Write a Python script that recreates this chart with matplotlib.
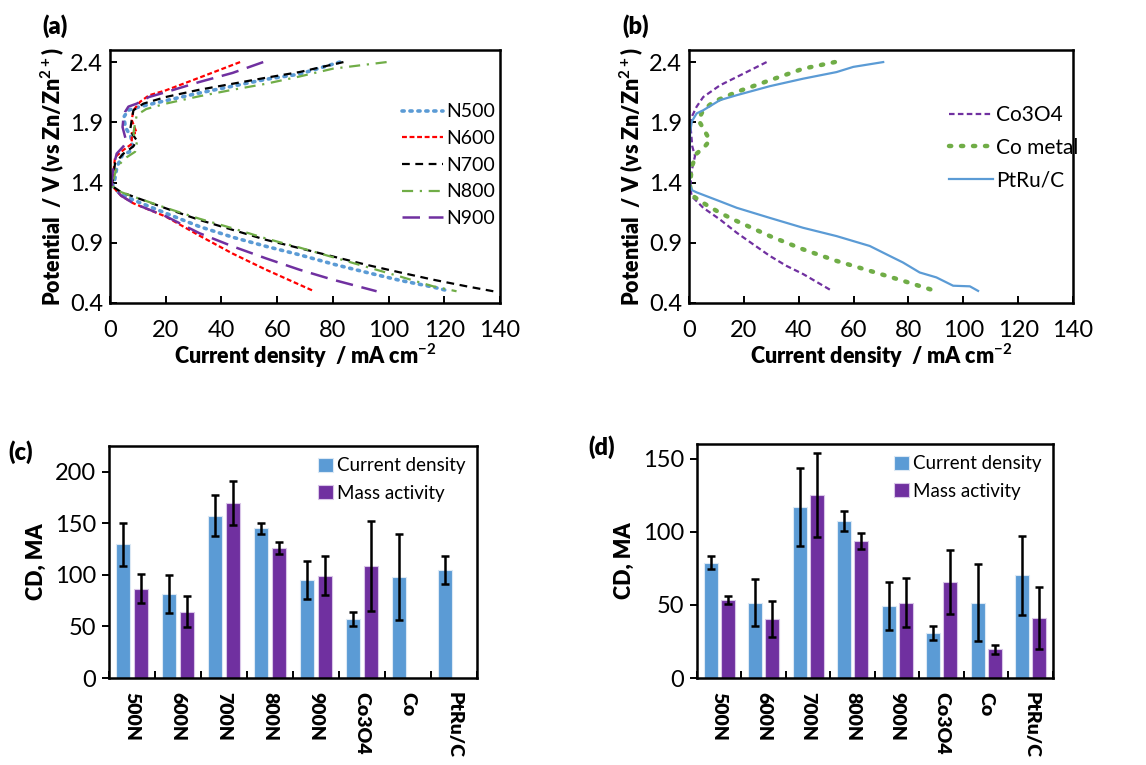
import numpy as np
import matplotlib
matplotlib.use('Agg')
import matplotlib.pyplot as plt
from matplotlib.ticker import MultipleLocator, FixedLocator

plt.rcParams['font.family'] = ['Lato', 'DejaVu Sans']
plt.rcParams['mathtext.fontset'] = 'custom'
plt.rcParams['mathtext.rm'] = 'Lato'
plt.rcParams['mathtext.bf'] = 'Lato:bold'

# Colors
BLUE = '#5B9BD5'
PURPLE = '#7030A0'
RED = '#FF0000'
GREEN = '#70AD47'
BLACK = '#000000'

# (a) polarisation curves, N-doped samples: (current density, potential)
n500_up_x = [1.5, 2.5, 4.5, 7.0, 8.0, 7.5, 5.5, 5.0, 6.5, 10.8, 20, 32, 44, 56, 68, 82.5]
n500_up_y = [1.40, 1.53, 1.63, 1.655, 1.70, 1.78, 1.86, 1.945, 2.0, 2.03, 2.08, 2.143, 2.20, 2.257, 2.30, 2.40]
n500_dn_x = [0.8, 4, 8.4, 20, 32, 44, 56, 68, 80, 92, 104, 116, 122]
n500_dn_y = [1.37, 1.30, 1.255, 1.145, 1.035, 0.946, 0.87, 0.80, 0.723, 0.654, 0.588, 0.532, 0.497]

n600_up_x = [0.6, 1.2, 1.8, 4.8, 7.8, 7.8, 9.6, 7.8, 8.4, 10.8, 14, 20, 32, 46.7]
n600_up_y = [1.38, 1.48, 1.61, 1.67, 1.72, 1.81, 1.81, 1.92, 2.0, 2.07, 2.124, 2.165, 2.27, 2.40]
n600_dn_x = [0.8, 4, 8.4, 20, 32, 44, 56, 73]
n600_dn_y = [1.37, 1.29, 1.227, 1.117, 0.96, 0.81, 0.676, 0.50]

n700_up_x = [0.6, 1.2, 1.8, 4.8, 8.4, 9.6, 7.2, 7.8, 8.4, 12, 20, 32, 44, 56, 68, 83.8]
n700_up_y = [1.37, 1.45, 1.56, 1.64, 1.70, 1.75, 1.83, 1.92, 2.0, 2.055, 2.11, 2.17, 2.22, 2.27, 2.317, 2.40]
n700_dn_x = [0.8, 4, 8.4, 20, 32, 44, 56, 68, 80, 92, 104, 116, 128, 137.6]
n700_dn_y = [1.37, 1.32, 1.283, 1.186, 1.09, 1.007, 0.924, 0.855, 0.786, 0.717, 0.654, 0.593, 0.538, 0.497]

n800_up_x = [1.2, 2.4, 6.0, 9.0, 9.6, 8.4, 9.0, 9.6, 13, 20, 32, 44, 56, 68, 80, 99.3]
n800_up_y = [1.42, 1.53, 1.61, 1.655, 1.72, 1.81, 1.89, 1.96, 2.01, 2.055, 2.116, 2.17, 2.22, 2.28, 2.345, 2.40]
n800_dn_x = [0.8, 4, 8.4, 20, 32, 44, 56, 68, 80, 92, 104, 116, 124.4]
n800_dn_y = [1.37, 1.32, 1.283, 1.19, 1.10, 1.02, 0.935, 0.86, 0.78, 0.70, 0.62, 0.538, 0.497]

n900_up_x = [0.6, 1.2, 2.4, 4.8, 6.0, 5.4, 4.5, 4.8, 5.4, 6.6, 9.6, 14, 20, 32, 44, 55]
n900_up_y = [1.41, 1.53, 1.64, 1.70, 1.74, 1.78, 1.86, 1.93, 1.986, 2.03, 2.055, 2.11, 2.15, 2.234, 2.31, 2.40]
n900_dn_x = [0.8, 4, 8.4, 20, 32, 44, 56, 68, 80, 95.7]
n900_dn_y = [1.37, 1.29, 1.227, 1.12, 0.98, 0.87, 0.77, 0.676, 0.593, 0.497]

# (b) reference catalysts
co3o4_up_x = [0.5, 1.0, 2.2, 1.2, 0.6, 1.0, 2.8, 5.2, 11.3, 17.4, 28.3]
co3o4_up_y = [1.36, 1.50, 1.62, 1.70, 1.86, 1.945, 2.03, 2.11, 2.207, 2.276, 2.40]
co3o4_dn_x = [0.5, 1.0, 5.2, 11.3, 17.4, 23.4, 29.5, 35.6, 41.6, 51.4]
co3o4_dn_y = [1.35, 1.286, 1.19, 1.093, 0.983, 0.887, 0.79, 0.707, 0.64, 0.51]

comet_up_x = [0.4, 0.5, 1.0, 2.8, 5.8, 7.6, 5.2, 3.4, 5.2, 8.9, 17.4, 29.5, 41.6, 53.2]
comet_up_y = [1.36, 1.40, 1.53, 1.64, 1.70, 1.75, 1.85, 1.92, 2.0, 2.07, 2.152, 2.249, 2.345, 2.40]
comet_dn_x = [0.4, 1.6, 5.2, 11.3, 17.4, 29.5, 41.6, 53.8, 65.9, 78, 90.2]
comet_dn_y = [1.36, 1.286, 1.23, 1.148, 1.08, 0.955, 0.845, 0.749, 0.667, 0.584, 0.497]

ptru_x = [70.8, 59.9, 53.8, 41.6, 29.5, 17.4, 11.3, 5.2, 2.8, 1.0, 0.4, 0.2, 0.4, 1.2, 2.8, 11.3,
          17.4, 29.5, 41.6, 53.8, 65.9, 73.2, 78, 84.1, 90.2, 96.3, 102.4, 105.4]
ptru_y = [2.40, 2.36, 2.317, 2.262, 2.20, 2.125, 2.084, 2.0, 1.974, 1.905, 1.81, 1.53, 1.37, 1.335, 1.318, 1.244,
          1.19, 1.106, 1.024, 0.955, 0.873, 0.79, 0.736, 0.653, 0.612, 0.543, 0.538, 0.50]

# (c), (d) bar data
categories = ['500N', '600N', '700N', '800N', '900N', 'Co3O4', 'Co', 'PtRu/C']

c_cd = [129.7, 81.6, 157.4, 145.2, 94.8, 57.7, 98.0, 104.8]
c_cd_err = [20.6, 18.5, 19.8, 5.6, 18.5, 6.8, 42.0, 13.2]
c_ma = [86.8, 64.5, 169.7, 126.1, 99.4, 108.4, np.nan, np.nan]
c_ma_err = [14.2, 15.0, 21.0, 5.5, 19.2, 43.5, np.nan, np.nan]

d_cd = [78.8, 51.6, 116.9, 107.3, 49.3, 31.0, 51.6, 70.1]
d_cd_err = [4.3, 15.8, 26.5, 6.7, 16.2, 4.7, 26.5, 27.0]
d_ma = [53.2, 40.4, 125.3, 93.6, 51.6, 65.8, 19.6, 41.1]
d_ma_err = [2.7, 12.1, 28.8, 5.4, 16.9, 22.0, 3.0, 21.4]

FS = 17      # tick labels
LFS = 15.5   # axis labels
GFS = 13.5   # legends

fig = plt.figure(figsize=(11.46, 7.65), dpi=100)


def style_frame(ax):
    for s in ax.spines.values():
        s.set_linewidth(1.8)
        s.set_color('black')


def curve_panel(ax):
    style_frame(ax)
    ax.set_xlim(0, 140)
    ax.set_ylim(0.4, 2.5)
    ax.xaxis.set_major_locator(MultipleLocator(20))
    ax.yaxis.set_major_locator(FixedLocator([0.4, 0.9, 1.4, 1.9, 2.4]))
    ax.yaxis.set_major_formatter(plt.FuncFormatter(lambda v, p: f'{v:.1f}'))
    ax.tick_params(axis='x', direction='in', length=5, width=1.4, labelsize=FS, pad=12)
    ax.tick_params(axis='y', direction='in', length=5, width=1.4, labelsize=FS, pad=5)
    ax.set_xlabel(r'Current density  / mA cm$^{\mathbf{-2}}$', fontsize=LFS, fontweight='heavy', labelpad=1)
    ax.set_ylabel(r'Potential  / V (vs Zn/Zn$^{\mathbf{2+}}$)', fontsize=LFS, fontweight='heavy', labelpad=3)


# ---- (a)
ax = fig.add_axes([0.096, 0.604, 0.3403, 0.3306])
curve_panel(ax)
series_a = [
    ('N500', n500_up_x, n500_up_y, n500_dn_x, n500_dn_y, BLUE, (0, (0.6, 1.6)), 2.6),
    ('N600', n600_up_x, n600_up_y, n600_dn_x, n600_dn_y, RED, (0, (2.2, 1.2)), 1.6),
    ('N700', n700_up_x, n700_up_y, n700_dn_x, n700_dn_y, BLACK, (0, (3.5, 2.5)), 1.6),
    ('N800', n800_up_x, n800_up_y, n800_dn_x, n800_dn_y, GREEN, (0, (5, 3, 1, 3)), 1.6),
    ('N900', n900_up_x, n900_up_y, n900_dn_x, n900_dn_y, PURPLE, (0, (7, 3.5)), 1.8),
]
for name, ux, uy, dx, dy, col, ls, lw in series_a:
    xs = list(reversed(ux)) + dx
    ys = list(reversed(uy)) + dy
    cap = 'round' if name == 'N500' else 'butt'
    ax.plot(xs, ys, color=col, linestyle=ls, lw=lw, label=name, dash_capstyle=cap)
ax.legend(loc='upper left', bbox_to_anchor=(0.73, 0.82), frameon=False, fontsize=14,
          handlelength=2.1, handletextpad=0.15, labelspacing=0.5, borderaxespad=0)
fig.text(0.037, 0.966, '(a)', fontsize=FS, fontweight='heavy', va='center')

# ---- (b)
ax = fig.add_axes([0.6012, 0.604, 0.3351, 0.3306])
curve_panel(ax)
ax.plot(list(reversed(co3o4_up_x)) + co3o4_dn_x, list(reversed(co3o4_up_y)) + co3o4_dn_y,
        color=PURPLE, linestyle=(0, (2.5, 1.5)), lw=1.6, label='Co3O4')
ax.plot(list(reversed(comet_up_x)) + comet_dn_x, list(reversed(comet_up_y)) + comet_dn_y,
        color=GREEN, linestyle=(0, (0.5, 2.2)), lw=3.2, dash_capstyle='round', label='Co metal')
ax.plot(ptru_x, ptru_y, color=BLUE, lw=1.6, label='PtRu/C')
ax.legend(loc='upper left', bbox_to_anchor=(0.655, 0.815), frameon=False, fontsize=15,
          handlelength=2.1, handletextpad=0.15, labelspacing=0.6, borderaxespad=0)
fig.text(0.543, 0.966, '(b)', fontsize=FS, fontweight='heavy', va='center')


def bar_panel(ax, cd, cd_err, ma, ma_err, ymax, ystep):
    style_frame(ax)
    x = np.arange(len(categories))
    w = 0.31
    ekw = dict(ecolor='black', elinewidth=1.8, capsize=3, capthick=1.8)
    ax.bar(x - 0.19, cd, w, color=BLUE, edgecolor='#DCE9F5', linewidth=0.8,
           yerr=cd_err, error_kw=ekw, label='Current density')
    ax.bar(x + 0.19, ma, w, color=PURPLE, edgecolor='#D9C6E8', linewidth=0.8,
           yerr=ma_err, error_kw=ekw, label='Mass activity')
    ax.set_xlim(-0.5, len(categories) - 0.5)
    ax.set_ylim(0, ymax)
    ax.yaxis.set_major_locator(MultipleLocator(ystep))
    ax.set_xticks(x)
    ax.set_xticklabels(categories, rotation=-90, fontsize=14, fontweight='heavy', va='top')
    ax.set_xticks(np.arange(len(categories) + 1) - 0.5, minor=True)
    ax.tick_params(axis='x', which='major', length=0, pad=10)
    ax.tick_params(axis='x', which='minor', direction='in', length=5, width=1.4)
    ax.tick_params(axis='y', direction='out', length=5, width=1.4, labelsize=FS, pad=4)
    ax.set_ylabel('CD, MA', fontsize=LFS, fontweight='heavy', labelpad=6)
    ax.legend(loc='upper right', frameon=False, fontsize=GFS, handlelength=0.75, handleheight=0.75,
              handletextpad=0.25, labelspacing=0.55, borderaxespad=0.2)


# ---- (c)
ax = fig.add_axes([0.0951, 0.1137, 0.3211, 0.3033])
bar_panel(ax, c_cd, c_cd_err, c_ma, c_ma_err, 225, 50)
fig.text(0.007, 0.409, '(c)', fontsize=FS, fontweight='heavy', va='center')

# ---- (d)
ax = fig.add_axes([0.6082, 0.1137, 0.3106, 0.3059])
bar_panel(ax, d_cd, d_cd_err, d_ma, d_ma_err, 160, 50)
fig.text(0.513, 0.416, '(d)', fontsize=FS, fontweight='heavy', va='center')

fig.savefig('out.png', dpi=100)
